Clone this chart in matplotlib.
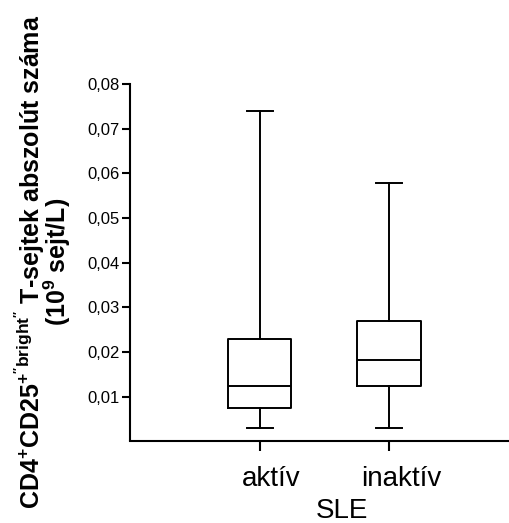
import matplotlib
matplotlib.use("Agg")
import matplotlib.pyplot as plt
from matplotlib.transforms import ScaledTranslation

plt.rcParams['font.family'] = ['Liberation Sans', 'DejaVu Sans']
plt.rcParams['mathtext.fontset'] = 'custom'
plt.rcParams['mathtext.rm'] = 'Liberation Sans:bold'
plt.rcParams['mathtext.default'] = 'rm'

# box statistics
groups = ['aktív', 'inaktív']
whisker_low = [0.0030, 0.0030]
q1 = [0.0075, 0.0123]
median = [0.0123, 0.0182]
q3 = [0.0229, 0.0270]
whisker_high = [0.0740, 0.0578]
y_ticks = [0.01, 0.02, 0.03, 0.04, 0.05, 0.06, 0.07, 0.08]

stats = []
for i, g in enumerate(groups):
    stats.append({'label': g, 'whislo': whisker_low[i], 'q1': q1[i], 'med': median[i],
                  'q3': q3[i], 'whishi': whisker_high[i], 'fliers': []})

fig = plt.figure(figsize=(5.1, 5.23), dpi=100)
ax = fig.add_axes([130 / 510, 1 - 440.5 / 523, 388.8 / 510, (440.5 - 84) / 523])

lw = 1.4
ax.bxp(stats, positions=[1, 2], widths=0.49, capwidths=0.2, showfliers=False,
       boxprops=dict(color='black', linewidth=lw),
       medianprops=dict(color='black', linewidth=lw),
       whiskerprops=dict(color='black', linewidth=lw),
       capprops=dict(color='black', linewidth=lw))

ax.set_xlim(0, 3)
ax.set_ylim(0.0002, 0.08)
ax.set_yticks(y_ticks)
ax.set_yticklabels([f"{v:.2f}".replace('.', ',') for v in y_ticks], fontsize=12)
ax.set_xticks([1, 2])
ax.set_xticklabels(groups, fontsize=20)

for s in ['top', 'right']:
    ax.spines[s].set_visible(False)
for s in ['left', 'bottom']:
    ax.spines[s].set_linewidth(1.5)

ax.tick_params(axis='y', length=5.5, width=1.5, pad=2)
ax.tick_params(axis='x', length=7, width=1.5, pad=11)

# category labels sit a little right of their ticks in the original
shift = ScaledTranslation(12 / 100, 0, fig.dpi_scale_trans)
for t in ax.xaxis.get_major_ticks():
    t.label1.set_transform(t.label1.get_transform() + shift)

ax.set_xlabel('SLE', fontsize=20, labelpad=5)
ax.xaxis.set_label_coords((342 - 130) / 388.8, -0.16)
ax.set_ylabel("CD4$^{+}$CD25$^{+''bright''}$ T-sejtek abszolút száma\n(10$^{9}$ sejt/L)",
              fontsize=18, fontweight='bold', linespacing=0.8, labelpad=10)

fig.savefig('out.png', dpi=100)
